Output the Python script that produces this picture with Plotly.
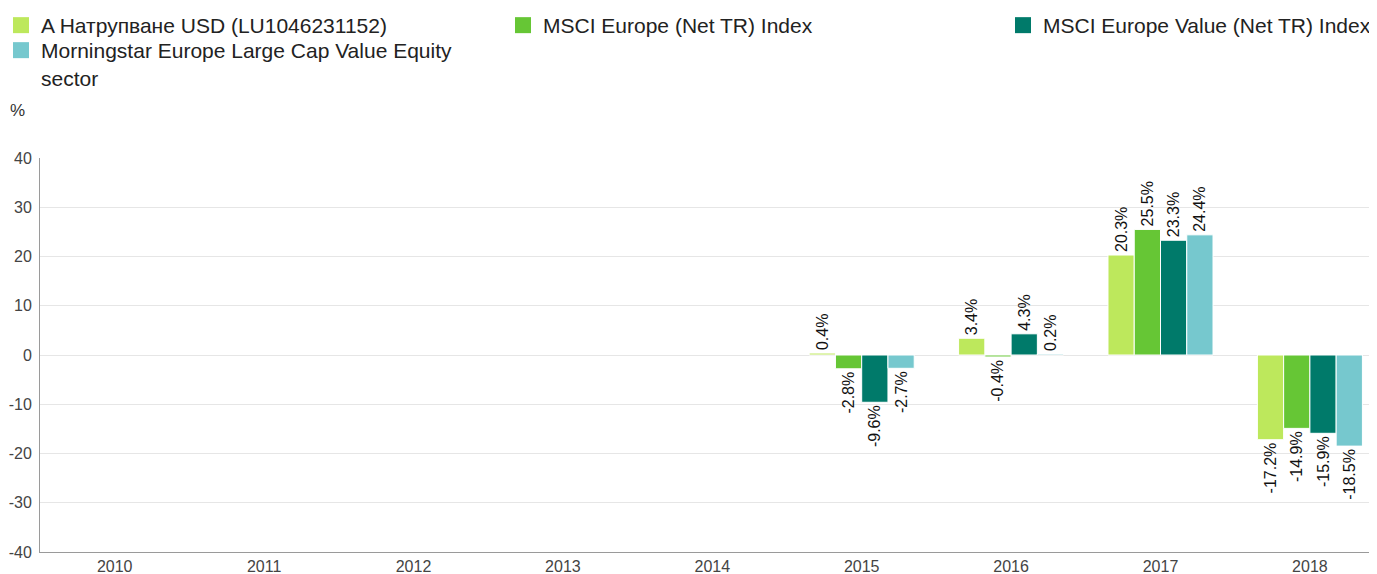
import plotly.graph_objects as go

years = ["2010", "2011", "2012", "2013", "2014", "2015", "2016", "2017", "2018"]
series_names = [
    "A Натрупване USD (LU1046231152)",
    "MSCI Europe (Net TR) Index",
    "MSCI Europe Value (Net TR) Index",
    "Morningstar Europe Large Cap Value Equity<br>sector",
]
fund = [None, None, None, None, None, 0.4, 3.4, 20.3, -17.2]
msci_europe = [None, None, None, None, None, -2.8, -0.4, 25.5, -14.9]
msci_value = [None, None, None, None, None, -9.6, 4.3, 23.3, -15.9]
morningstar = [None, None, None, None, None, -2.7, 0.2, 24.4, -18.5]
colors = ["#BDE85C", "#66C635", "#007A6A", "#76C8CE"]
y_ticks = [-40, -30, -20, -10, 0, 10, 20, 30, 40]

# the page adds an 8px body margin, so the figure is sized/positioned to compensate
OFF = 8
W, H = 1377 - OFF, 574 - OFF
PL, PT, PB = 40 - OFF, 158 - OFF, 22
PH = H - PT - PB
PW = W - PL
FONT = "Liberation Sans, Arial, sans-serif"

fig = go.Figure()
legend_ids = ["legend", "legend2", "legend3", "legend4"]
for name, vals, col, lg in zip(series_names, [fund, msci_europe, msci_value, morningstar], colors, legend_ids):
    fig.add_trace(go.Bar(
        x=years, y=vals, name=name,
        marker=dict(color=col, line=dict(color="white", width=1)),
        text=[None if v is None else f"{v:.1f}%" for v in vals],
        textposition="outside", textangle=-90,
        textfont=dict(size=16, color="#111111", family=FONT),
        constraintext="none", cliponaxis=False,
        showlegend=False, hoverinfo="x+y+name",
    ))
# legend entries with larger square swatches
for name, col, lg in zip(series_names, colors, legend_ids):
    fig.add_trace(go.Scatter(
        x=[None], y=[None], mode="markers", name=name,
        marker=dict(symbol="square", size=16, color=col),
        legend=lg, showlegend=True, hoverinfo="skip",
    ))

# legend positions in figure px (left, top), converted to paper coordinates
leg_pos = [(-7, -3), (495, -3), (995, -3), (-7, 22)]
legs = {}
for lg, (px, py) in zip(legend_ids, leg_pos):
    legs[lg] = dict(
        xref="paper", yref="paper",
        x=(px - PL) / PW, y=(H - PB - py) / PH, xanchor="left", yanchor="top",
        font=dict(size=21, color="#222222", family=FONT),
        bgcolor="rgba(0,0,0,0)", borderwidth=0, valign="top",
        tracegroupgap=0,
    )
legs["legend3"].update(entrywidth=333, entrywidthmode="pixels")

fig.update_layout(
    width=W, height=H,
    margin=dict(l=PL, r=0, t=PT, b=PB, pad=0, autoexpand=False),
    paper_bgcolor="white", plot_bgcolor="white",
    barmode="group", bargap=0.297, bargroupgap=0,
    font=dict(family=FONT, size=16, color="#333333"),
    showlegend=True,
    **legs,
    xaxis=dict(
        type="category", range=[-0.5, -0.5 + PW / 149.4],
        showline=True, linecolor="#9a9a9a", linewidth=1,
        showgrid=False, ticks="", tickfont=dict(size=16, color="#444444"),
    ),
    yaxis=dict(
        range=[-40, 40], tickvals=y_ticks, ticktext=[str(v) for v in y_ticks],
        showline=True, linecolor="#9a9a9a", linewidth=1,
        showgrid=True, gridcolor="#e6e6e6", gridwidth=1,
        zeroline=False, ticks="", tickfont=dict(size=16, color="#444444"),
        ticklabelstandoff=4,
    ),
    annotations=[dict(
        text="%", xref="paper", yref="paper",
        x=0, y=(H - PB - (110 - OFF)) / PH, xanchor="left", yanchor="middle",
        showarrow=False, font=dict(size=17, color="#333333", family=FONT), xshift=-32,
    )],
)

fig.write_html("out.html")
